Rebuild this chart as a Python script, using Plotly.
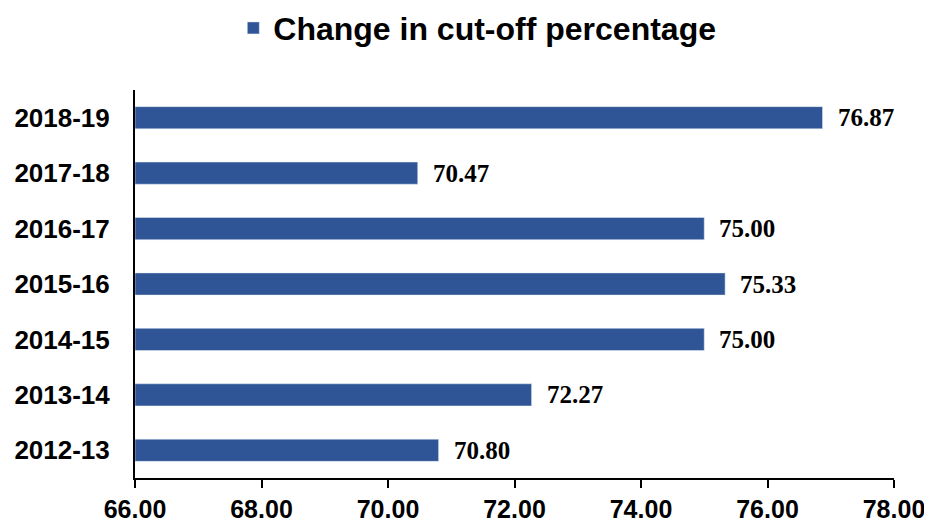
import plotly.graph_objects as go

years = ["2012-13", "2013-14", "2014-15", "2015-16", "2016-17", "2017-18", "2018-19"]
cutoff = [70.80, 72.27, 75.00, 75.33, 75.00, 70.47, 76.87]
x_ticks = [66, 68, 70, 72, 74, 76, 78]

bar_color = "#2F5597"

fig = go.Figure()
fig.add_trace(
    go.Bar(
        y=years,
        x=[v - 66 for v in cutoff],
        base=66,
        orientation="h",
        width=0.4,
        marker=dict(color=bar_color),
        name="Change in cut-off percentage",
        showlegend=True,
    )
)

# value labels to the right of each bar
for yr, v in zip(years, cutoff):
    fig.add_annotation(
        x=v, y=yr, text=f"{v:.2f}", showarrow=False,
        xanchor="left", xshift=13,
        font=dict(family="Liberation Serif", size=25, color="black", weight="bold"),
    )

fig.update_xaxes(
    range=[66, 78],
    tickvals=x_ticks,
    ticktext=[f"{t:.2f}" for t in x_ticks],
    showline=True, linecolor="black", linewidth=2,
    ticks="outside", ticklen=8, tickwidth=2, tickcolor="black",
    showgrid=False, zeroline=False, automargin=False,
    tickfont=dict(family="Liberation Sans", size=25, color="black", weight="bold"),
)
fig.update_yaxes(
    showline=True, linecolor="black", linewidth=2,
    showgrid=False, ticks="", ticklabelstandoff=18, automargin=False,
    tickfont=dict(family="Liberation Sans", size=26, color="black", weight="bold"),
)

# page body adds an 8px offset, so the figure is slightly smaller than the window
fig.update_layout(
    width=924, height=515,
    margin=dict(l=127, r=38, t=82, b=45),
    plot_bgcolor="white", paper_bgcolor="white",
    legend=dict(
        orientation="h", x=0.451, xanchor="center",
        yref="container", y=0.961, yanchor="middle",
        itemwidth=30,
        font=dict(family="Liberation Sans", size=32, color="black", weight="bold"),
    ),
)

fig.write_html("out.html")
